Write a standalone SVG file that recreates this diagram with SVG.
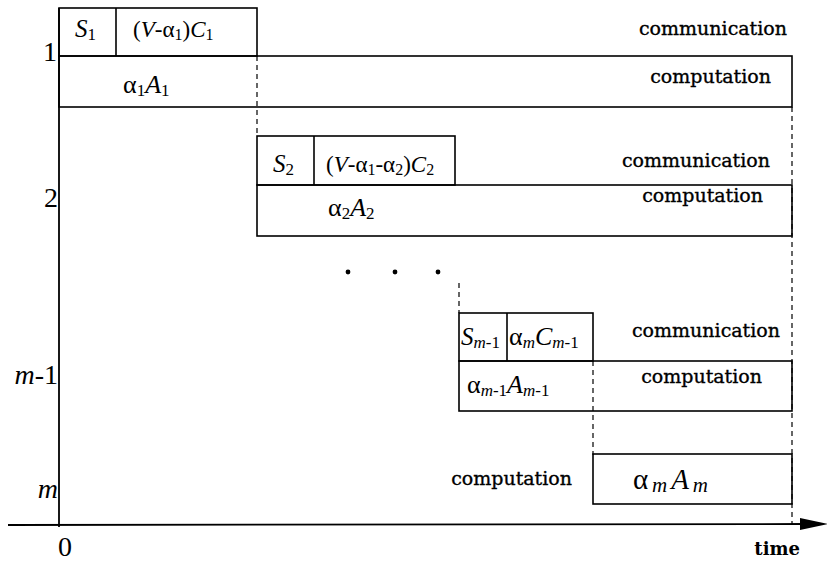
<svg xmlns="http://www.w3.org/2000/svg" width="827" height="563" viewBox="0 0 827 563">
<style>
.box{fill:none;stroke:#000;stroke-width:1.6}
.dash{fill:none;stroke:#000;stroke-width:1.2;stroke-dasharray:5,4}
.axis{fill:none;stroke:#000;stroke-width:1.8}
.lbl{font-family:"DejaVu Serif",serif;font-size:19px;fill:#000;stroke:#000;stroke-width:0.35}
.math{font-family:"Liberation Serif","Times New Roman",serif;font-size:25px;fill:#000}
.row{font-family:"Liberation Serif","Times New Roman",serif;font-size:28px;fill:#000}
.it{font-style:italic}
.sub{font-size:17px}
.time{font-family:"DejaVu Serif",serif;font-size:18px;font-weight:bold;fill:#000}
</style>
<rect width="827" height="563" fill="#fff"/>
<g id="connectors">
  <line class="axis" x1="59" y1="8" x2="59" y2="527"/>
  <line class="axis" x1="8" y1="525" x2="806" y2="524"/>
  <polygon points="800,518 828,524 800,530" fill="#000"/>
  <line class="dash" x1="257" y1="56" x2="257" y2="136"/>
  <line class="dash" x1="792" y1="107" x2="792" y2="525"/>
  <line class="dash" x1="459" y1="283" x2="459" y2="313"/>
  <line class="dash" x1="593" y1="361" x2="593" y2="455"/>
</g>
<g id="axis-labels">
  <text class="row" x="57" y="61" text-anchor="end">1</text>
  <text class="row" x="58" y="207" text-anchor="end">2</text>
  <text class="row" x="58" y="384" text-anchor="end"><tspan class="it">m</tspan>-1</text>
  <text class="row it" x="58" y="498" text-anchor="end">m</text>
  <text class="row" x="65" y="556" text-anchor="middle">0</text>
  <text class="time" x="800" y="555" text-anchor="end">time</text>
</g>
<g id="dots">
  <circle cx="348" cy="272" r="2.4" fill="#000"/>
  <circle cx="395" cy="272" r="2.4" fill="#000"/>
  <circle cx="438" cy="272" r="2.4" fill="#000"/>
</g>
<g id="row1-comm">
  <rect class="box" x="59" y="8" width="198" height="48"/>
  <line class="box" x1="116" y1="8" x2="116" y2="56"/>
  <text class="math" x="75" y="37"><tspan class="it">S</tspan><tspan class="sub" dy="3">1</tspan></text>
  <text class="math" x="133" y="37" style="font-size:23px">(<tspan class="it">V</tspan>-α<tspan class="sub" dy="3" style="font-size:16px">1</tspan><tspan dy="-3">)</tspan><tspan class="it">C</tspan><tspan class="sub" dy="3" style="font-size:16px">1</tspan></text>
  <text class="lbl" x="787" y="35" text-anchor="end">communication</text>
</g>
<g id="row1-comp">
  <rect class="box" x="59" y="56" width="733" height="51"/>
  <text class="math" x="123" y="93" style="font-size:26px">α<tspan class="sub" dy="3">1</tspan><tspan class="it" dy="-3">A</tspan><tspan class="sub" dy="3">1</tspan></text>
  <text class="lbl" x="771" y="83" text-anchor="end">computation</text>
</g>
<g id="row2-comm">
  <rect class="box" x="257" y="136" width="198" height="49"/>
  <line class="box" x1="314" y1="136" x2="314" y2="185"/>
  <text class="math" x="273" y="172"><tspan class="it">S</tspan><tspan class="sub" dy="3">2</tspan></text>
  <text class="math" x="326" y="172" style="font-size:23px">(<tspan class="it">V</tspan>-α<tspan class="sub" dy="3" style="font-size:16px">1</tspan><tspan dy="-3">-α</tspan><tspan class="sub" dy="3" style="font-size:16px">2</tspan><tspan dy="-3">)</tspan><tspan class="it">C</tspan><tspan class="sub" dy="3" style="font-size:16px">2</tspan></text>
  <text class="lbl" x="770" y="167" text-anchor="end">communication</text>
</g>
<g id="row2-comp">
  <rect class="box" x="257" y="185" width="535" height="51"/>
  <text class="math" x="328" y="216" style="font-size:26px">α<tspan class="sub" dy="3">2</tspan><tspan class="it" dy="-3">A</tspan><tspan class="sub" dy="3">2</tspan></text>
  <text class="lbl" x="763" y="202" text-anchor="end">computation</text>
</g>
<g id="rowm1-comm">
  <rect class="box" x="459" y="313" width="134" height="48"/>
  <line class="box" x1="507" y1="313" x2="507" y2="361"/>
  <text class="math" x="461" y="345"><tspan class="it">S</tspan><tspan class="sub" dy="3"><tspan class="it">m</tspan>-1</tspan></text>
  <text class="math" x="509" y="345" style="font-size:26px">α<tspan class="sub it" dy="3">m</tspan><tspan class="it" dy="-3">C</tspan><tspan class="sub" dy="3"><tspan class="it">m</tspan>-1</tspan></text>
  <text class="lbl" x="780" y="337" text-anchor="end">communication</text>
</g>
<g id="rowm1-comp">
  <rect class="box" x="459" y="361" width="333" height="50"/>
  <text class="math" x="467" y="393" style="font-size:26px">α<tspan class="sub" dy="3"><tspan class="it">m</tspan>-1</tspan><tspan class="it" dy="-3">A</tspan><tspan class="sub" dy="3"><tspan class="it">m</tspan>-1</tspan></text>
  <text class="lbl" x="762" y="383" text-anchor="end">computation</text>
</g>
<g id="rowm-comp">
  <rect class="box" x="593" y="454" width="199" height="50"/>
  <text class="math" x="633" y="489" textLength="75" lengthAdjust="spacing" style="font-size:29px">α<tspan class="sub it" dy="3" style="font-size:21px">m</tspan><tspan class="it" dy="-3">A</tspan><tspan class="sub it" dy="3" style="font-size:21px">m</tspan></text>
  <text class="lbl" x="572" y="485" text-anchor="end">computation</text>
</g>
</svg>
